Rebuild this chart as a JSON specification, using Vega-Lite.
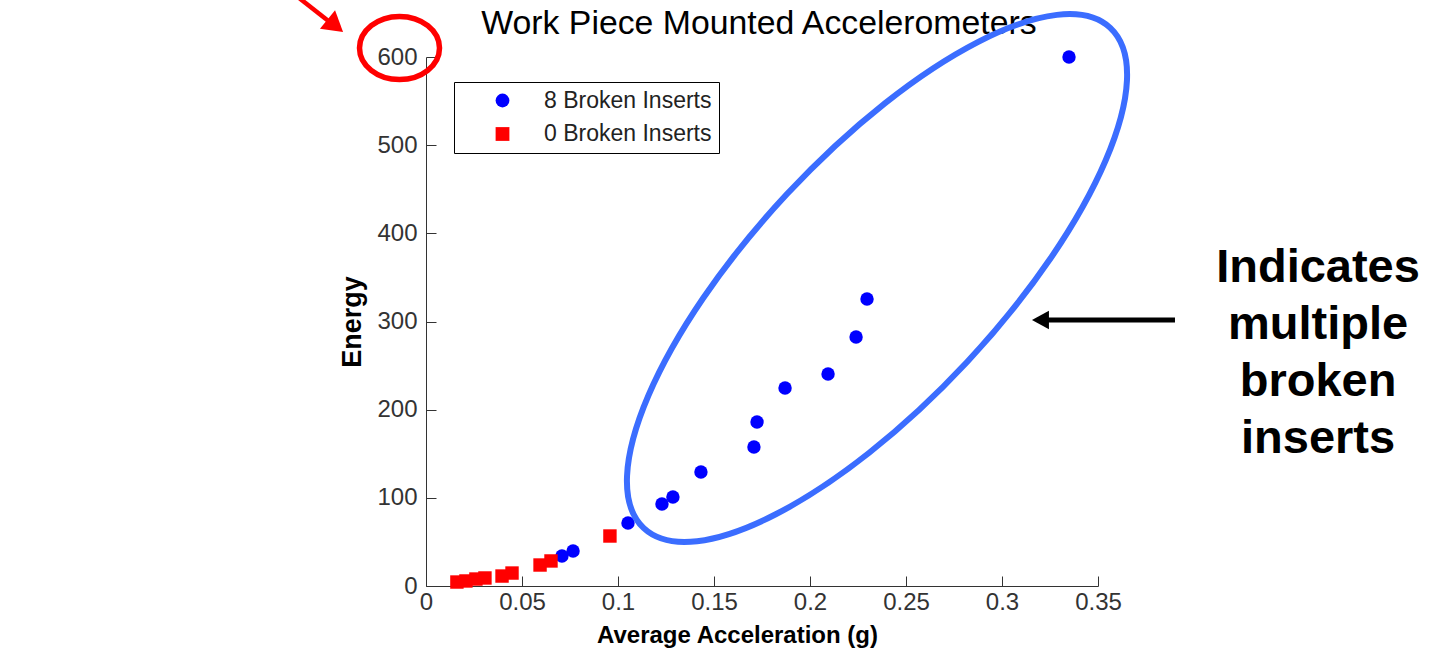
{
  "$schema": "https://vega.github.io/schema/vega-lite/v6.json",
  "width": 672,
  "height": 529,
  "autosize": "none",
  "padding": {"left": 426, "top": 57, "right": 341, "bottom": 70},
  "background": "white",
  "config": {
    "view": {"stroke": null},
    "axis": {
      "grid": false,
      "domainColor": "#333333",
      "tickColor": "#333333",
      "tickSize": -10,
      "labelFont": "Liberation Sans",
      "labelFontSize": 24,
      "labelColor": "#333333",
      "titleFont": "Liberation Sans",
      "titleFontWeight": "bold",
      "titleColor": "black"
    }
  },
  "datasets": {
    "pts": [
      {"acc": 0.3349, "energy": 600, "group": "8 Broken Inserts"},
      {"acc": 0.2297, "energy": 325.5, "group": "8 Broken Inserts"},
      {"acc": 0.2240, "energy": 282.4, "group": "8 Broken Inserts"},
      {"acc": 0.2094, "energy": 240.4, "group": "8 Broken Inserts"},
      {"acc": 0.1870, "energy": 224.6, "group": "8 Broken Inserts"},
      {"acc": 0.1724, "energy": 186.0, "group": "8 Broken Inserts"},
      {"acc": 0.1708, "energy": 157.7, "group": "8 Broken Inserts"},
      {"acc": 0.1432, "energy": 129.3, "group": "8 Broken Inserts"},
      {"acc": 0.1286, "energy": 100.9, "group": "8 Broken Inserts"},
      {"acc": 0.1229, "energy": 93.0, "group": "8 Broken Inserts"},
      {"acc": 0.1052, "energy": 71.5, "group": "8 Broken Inserts"},
      {"acc": 0.0766, "energy": 39.7, "group": "8 Broken Inserts"},
      {"acc": 0.0708, "energy": 34.0, "group": "8 Broken Inserts"},
      {"acc": 0.0161, "energy": 4.5, "group": "0 Broken Inserts"},
      {"acc": 0.0208, "energy": 5.7, "group": "0 Broken Inserts"},
      {"acc": 0.0260, "energy": 7.9, "group": "0 Broken Inserts"},
      {"acc": 0.0307, "energy": 9.1, "group": "0 Broken Inserts"},
      {"acc": 0.0396, "energy": 11.3, "group": "0 Broken Inserts"},
      {"acc": 0.0448, "energy": 14.7, "group": "0 Broken Inserts"},
      {"acc": 0.0594, "energy": 23.8, "group": "0 Broken Inserts"},
      {"acc": 0.0651, "energy": 28.4, "group": "0 Broken Inserts"},
      {"acc": 0.0958, "energy": 56.7, "group": "0 Broken Inserts"}
    ],
    "chartTitle": [{"x": 0.1734, "y": 626.3, "label": "Work Piece Mounted Accelerometers"}],
    "bigEllipse": [{"x": 0.2349, "y": 349.3}],
    "redCircle": [{"x": -0.0138, "y": 610.2}],
    "blackLine": [{"x": 0.3901, "x2": 0.3229, "y": 301.7, "y2": 301.7}],
    "blackHead": [{"x": 0.3156, "y": 301.7}],
    "redLine": [{"x": -0.0667, "x2": -0.0495, "y": 668, "y2": 638.5}],
    "redHead": [{"x": -0.0432, "y": 628.3}],
    "note": [{"x": 0.4646, "y": 344.8, "label": "Indicates\nmultiple\nbroken\ninserts"}]
  },
  "layer": [
    {
      "data": {"name": "pts"},
      "mark": {"type": "point", "filled": true, "opacity": 1, "size": 180},
      "encoding": {
        "x": {
          "field": "acc", "type": "quantitative",
          "scale": {"domain": [0, 0.35], "nice": false, "zero": false},
          "axis": {"title": "Average Acceleration (g)", "titleFontSize": 24, "titleX": 311, "values": [0, 0.05, 0.1, 0.15, 0.2, 0.25, 0.3, 0.35], "format": "~g", "labelPadding": 14, "titlePadding": 9, "labelFlush": false}
        },
        "y": {
          "field": "energy", "type": "quantitative",
          "scale": {"domain": [0, 600], "nice": false},
          "axis": {"title": "Energy", "titleFontSize": 27, "values": [0, 100, 200, 300, 400, 500, 600], "labelPadding": 19, "titlePadding": 10, "labelFlush": false}
        },
        "color": {
          "field": "group", "type": "nominal",
          "scale": {"domain": ["8 Broken Inserts", "0 Broken Inserts"], "range": ["#0000ff", "#ff0000"]},
          "legend": {
            "title": null, "orient": "none", "legendX": 28, "legendY": 25,
            "strokeColor": "black", "fillColor": "white", "padding": 7,
            "symbolOffset": 30, "labelOffset": 30, "rowPadding": 9.5,
            "symbolSize": 190, "labelFont": "Liberation Sans", "labelFontSize": 23,
            "labelLimit": 400, "labelColor": "#222222", "symbolStrokeWidth": 0, "cornerRadius": 0
          }
        },
        "shape": {
          "field": "group", "type": "nominal",
          "scale": {"domain": ["8 Broken Inserts", "0 Broken Inserts"], "range": ["circle", "square"]},
          "legend": null
        }
      }
    },
    {
      "data": {"name": "chartTitle"},
      "mark": {"type": "text", "font": "Liberation Sans", "fontSize": 33.8, "align": "center", "baseline": "alphabetic", "color": "black", "clip": false},
      "encoding": {"x": {"field": "x", "type": "quantitative"}, "y": {"field": "y", "type": "quantitative"}, "text": {"field": "label"}}
    },
    {
      "data": {"name": "bigEllipse"},
      "mark": {"type": "point", "shape": "M -1 0 A 1 0.36 0 1 1 1 0 A 1 0.36 0 1 1 -1 0 Z", "size": 467856, "angle": -47, "filled": false, "stroke": "#3b6dff", "strokeWidth": 6, "opacity": 1, "clip": false},
      "encoding": {"x": {"field": "x", "type": "quantitative"}, "y": {"field": "y", "type": "quantitative"}}
    },
    {
      "data": {"name": "redCircle"},
      "mark": {"type": "point", "shape": "M -1 0 A 1 0.79 0 1 1 1 0 A 1 0.79 0 1 1 -1 0 Z", "size": 6400, "filled": false, "stroke": "#ff0000", "strokeWidth": 5.5, "opacity": 1, "clip": false},
      "encoding": {"x": {"field": "x", "type": "quantitative"}, "y": {"field": "y", "type": "quantitative"}}
    },
    {
      "data": {"name": "blackLine"},
      "mark": {"type": "rule", "color": "black", "strokeWidth": 5, "clip": false},
      "encoding": {"x": {"field": "x", "type": "quantitative"}, "x2": {"field": "x2"}, "y": {"field": "y", "type": "quantitative"}, "y2": {"field": "y2"}}
    },
    {
      "data": {"name": "blackHead"},
      "mark": {"type": "point", "shape": "M 0 0 L 1 -0.55 L 1 0.55 Z", "size": 1156, "filled": true, "color": "black", "opacity": 1, "clip": false},
      "encoding": {"x": {"field": "x", "type": "quantitative"}, "y": {"field": "y", "type": "quantitative"}}
    },
    {
      "data": {"name": "redLine"},
      "mark": {"type": "rule", "color": "#ff0000", "strokeWidth": 4.5, "clip": false},
      "encoding": {"x": {"field": "x", "type": "quantitative"}, "x2": {"field": "x2"}, "y": {"field": "y", "type": "quantitative"}, "y2": {"field": "y2"}}
    },
    {
      "data": {"name": "redHead"},
      "mark": {"type": "point", "shape": "M 0 0 L -1 -0.6 L -1 0.6 Z", "size": 1600, "angle": 39, "filled": true, "color": "#ff0000", "opacity": 1, "clip": false},
      "encoding": {"x": {"field": "x", "type": "quantitative"}, "y": {"field": "y", "type": "quantitative"}}
    },
    {
      "data": {"name": "note"},
      "mark": {"type": "text", "font": "Liberation Sans", "fontWeight": "bold", "fontSize": 47, "align": "center", "baseline": "alphabetic", "lineBreak": "\n", "lineHeight": 57, "color": "black", "clip": false},
      "encoding": {"x": {"field": "x", "type": "quantitative"}, "y": {"field": "y", "type": "quantitative"}, "text": {"field": "label"}}
    }
  ]
}
